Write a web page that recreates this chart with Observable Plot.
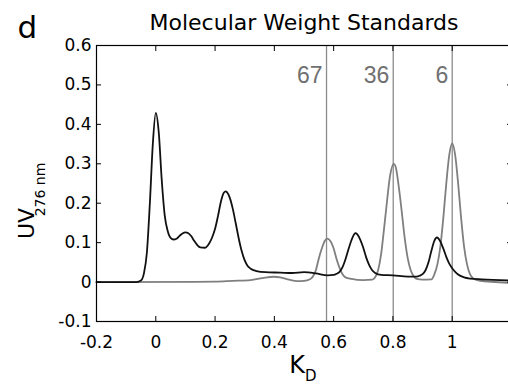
<!DOCTYPE html>
<html>
<head>
<meta charset="utf-8">
<script src="https://cdn.jsdelivr.net/npm/d3@7"></script>
<script src="https://cdn.jsdelivr.net/npm/@observablehq/plot@0.6"></script>
<style>
  html, body { margin: 0; padding: 0; background: #fff; overflow: hidden; }
  svg { display: block; }
</style>
</head>
<body>
<div id="chart"></div>
<script>
// K_D positions and UV readings (black trace: sample)
const blackKD = [-0.2,-0.1,-0.065,-0.05,-0.04,-0.03,-0.02,-0.01,0,0.01,0.02,0.03,0.04,0.05,0.06,0.07,0.08,0.09,0.1,0.11,0.12,0.13,0.14,0.15,0.165,0.18,0.19,0.2,0.21,0.22,0.23,0.236,0.24,0.25,0.26,0.27,0.28,0.29,0.3,0.31,0.32,0.34,0.37,0.42,0.46,0.5,0.54,0.58,0.6,0.61,0.62,0.63,0.64,0.65,0.66,0.67,0.673,0.68,0.69,0.7,0.71,0.72,0.73,0.74,0.76,0.8,0.85,0.88,0.89,0.9,0.91,0.92,0.93,0.94,0.948,0.96,0.97,0.98,0.99,1.0,1.01,1.02,1.04,1.06,1.1,1.2];
const blackUV = [0,0,0,0.004,0.022,0.075,0.2,0.35,0.429,0.38,0.26,0.17,0.13,0.112,0.108,0.11,0.117,0.123,0.126,0.124,0.116,0.104,0.094,0.088,0.087,0.098,0.113,0.135,0.168,0.205,0.227,0.23,0.228,0.213,0.185,0.148,0.11,0.078,0.055,0.041,0.034,0.028,0.025,0.024,0.023,0.025,0.022,0.017,0.018,0.021,0.026,0.038,0.058,0.083,0.106,0.122,0.124,0.121,0.107,0.087,0.062,0.043,0.03,0.023,0.018,0.017,0.014,0.014,0.016,0.02,0.03,0.05,0.08,0.105,0.113,0.103,0.085,0.064,0.047,0.035,0.026,0.019,0.012,0.009,0.007,0.004];
// grey trace: molecular weight standards
const greyKD = [-0.2,0.2,0.26,0.32,0.36,0.398,0.42,0.45,0.477,0.5,0.52,0.53,0.54,0.55,0.56,0.57,0.578,0.59,0.6,0.61,0.62,0.63,0.64,0.66,0.7,0.73,0.74,0.75,0.76,0.77,0.78,0.79,0.803,0.81,0.82,0.83,0.84,0.85,0.86,0.87,0.88,0.9,0.93,0.94,0.95,0.96,0.97,0.98,0.99,1.0,1.01,1.02,1.03,1.04,1.05,1.06,1.07,1.09,1.2];
const greyUV = [0,0.001,0.003,0.005,0.01,0.0135,0.012,0.006,0.0025,0.003,0.007,0.014,0.03,0.06,0.085,0.104,0.11,0.103,0.085,0.058,0.036,0.02,0.012,0.008,0.005,0.006,0.012,0.03,0.07,0.135,0.205,0.268,0.3,0.29,0.24,0.177,0.11,0.06,0.03,0.015,0.008,0.006,0.007,0.02,0.045,0.09,0.163,0.25,0.322,0.352,0.322,0.25,0.163,0.09,0.045,0.02,0.01,0.004,-0.002];
// standard markers
const stdKD = [0.576, 0.801, 1.0];
const stdLabels = ["67", "36", "6"];
// axis ticks
const xTicks = [-0.2, 0, 0.2, 0.4, 0.6, 0.8, 1];
const yTicks = [-0.1, 0, 0.1, 0.2, 0.3, 0.4, 0.5, 0.6];

const black = blackKD.map((k, i) => ({k, uv: blackUV[i]}));
const grey = greyKD.map((k, i) => ({k, uv: greyUV[i]}));
const stds = stdKD.map((k, i) => ({k, label: stdLabels[i]}));
const fmt = d => String(d).replace("\u2212", "-");

const font = "DejaVu Sans, sans-serif";
const chart = Plot.plot({
  width: 508,
  height: 385,
  marginLeft: 96,
  marginRight: -3,
  marginTop: 45,
  marginBottom: 64,
  style: {fontFamily: font, background: "#fff", color: "#000"},
  x: {domain: [-0.2, 1.2]},
  y: {domain: [-0.1, 0.6]},
  marks: [
    Plot.ruleX(stds, {x: "k", stroke: "#8c8c8c", strokeWidth: 1.3}),
    Plot.text(stds, {x: "k", text: "label", frameAnchor: "top", lineAnchor: "top", textAnchor: "end", dx: -4, dy: 21, fill: "#707070", fontSize: 23, fontFamily: "Liberation Sans, Arial, sans-serif"}),
    Plot.line(grey, {x: "k", y: "uv", stroke: "#7f7f7f", strokeWidth: 1.8, curve: "monotone-x"}),
    Plot.line(black, {x: "k", y: "uv", stroke: "#111", strokeWidth: 1.8, curve: "monotone-x"}),
    Plot.frame({stroke: "#000", strokeWidth: 1.2}),
    Plot.axisX(xTicks, {anchor: "bottom", tickSize: 0, tickPadding: 14, tickFormat: fmt, fontSize: 17, label: null}),
    Plot.axisX(xTicks, {anchor: "bottom", tickSize: -5, tickFormat: () => "", label: null}),
    Plot.axisX(xTicks, {anchor: "top", tickSize: -5, tickFormat: () => "", label: null}),
    Plot.axisY(yTicks, {anchor: "left", tickSize: 0, tickPadding: 5, tickFormat: fmt, fontSize: 17, label: null}),
    Plot.axisY(yTicks, {anchor: "left", tickSize: -5, tickFormat: () => "", label: null}),
    Plot.axisY(yTicks, {anchor: "right", tickSize: -5, tickFormat: () => "", label: null}),
    Plot.text(["Molecular Weight Standards"], {frameAnchor: "top", lineAnchor: "bottom", dy: -16, fontSize: 22, fill: "#000"}),
    Plot.text(["d"], {frameAnchor: "top-left", textAnchor: "start", lineAnchor: "bottom", dx: -79, dy: -8, fontSize: 31, fill: "#000"}),
    Plot.text(["UV"], {frameAnchor: "left", rotate: -90, textAnchor: "middle", lineAnchor: "bottom", dx: -63, dy: 40, fontSize: 22, fill: "#000"}),
    Plot.text(["276 nm"], {frameAnchor: "left", rotate: -90, textAnchor: "middle", lineAnchor: "bottom", dx: -52, dy: 6, fontSize: 14, fill: "#000"}),
    Plot.text(["K"], {frameAnchor: "bottom", textAnchor: "end", lineAnchor: "bottom", dx: 1, dy: 51, fontSize: 24, fill: "#000"}),
    Plot.text(["D"], {frameAnchor: "bottom", textAnchor: "start", lineAnchor: "bottom", dx: 1, dy: 59, fontSize: 15, fill: "#000"})
  ]
});
document.getElementById("chart").appendChild(chart);
</script>
</body>
</html>
